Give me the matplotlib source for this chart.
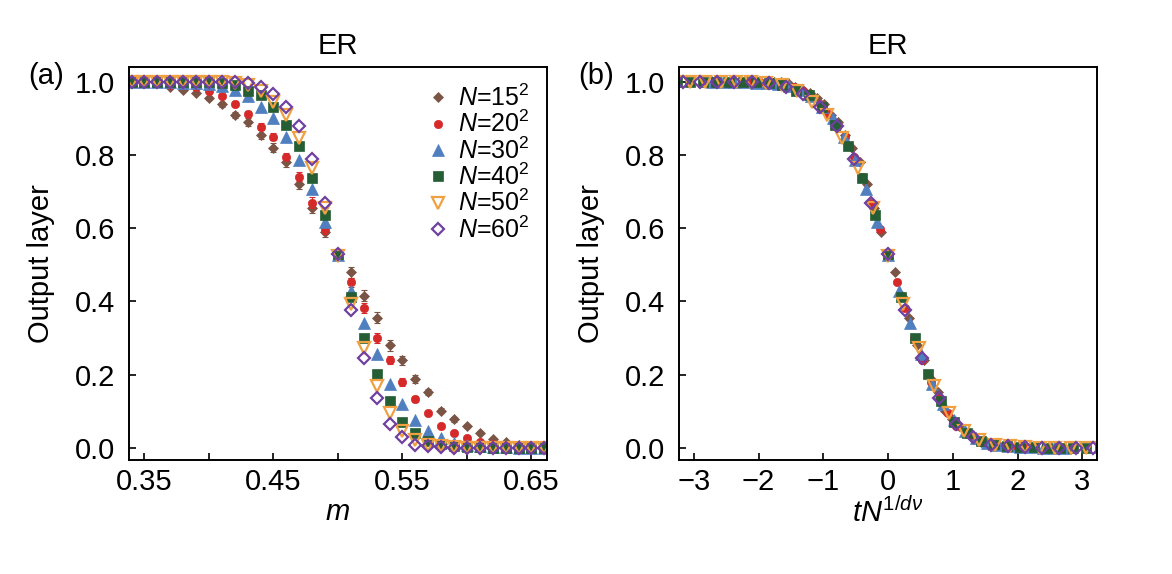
import numpy as np
import matplotlib
matplotlib.use("Agg")
import matplotlib.pyplot as plt

plt.rcParams["font.family"] = ["Liberation Sans", "DejaVu Sans"]
plt.rcParams["mathtext.fontset"] = "custom"
plt.rcParams["mathtext.rm"] = "Liberation Sans"
plt.rcParams["mathtext.it"] = "Liberation Sans:italic"
plt.rcParams["mathtext.bf"] = "Liberation Sans:bold"

# order parameter grid (left panel)
m = [0.34, 0.35, 0.36, 0.37, 0.38, 0.39, 0.40, 0.41, 0.42, 0.43, 0.44,
     0.45, 0.46, 0.47, 0.48, 0.49, 0.50, 0.51, 0.52, 0.53, 0.54, 0.55,
     0.56, 0.57, 0.58, 0.59, 0.60, 0.61, 0.62, 0.63, 0.64, 0.65, 0.66]

L_sizes = [15, 20, 30, 40, 50, 60]

out_15 = [1.0, 0.998, 0.995, 0.986, 0.978, 0.968, 0.955, 0.938, 0.91, 0.89, 0.855,
          0.82, 0.78, 0.72, 0.655, 0.59, 0.53, 0.479, 0.416, 0.356, 0.28, 0.239,
          0.188, 0.153, 0.102, 0.078, 0.06, 0.042, 0.024, 0.015, 0.008, 0.004, 0.002]
out_20 = [1.0, 1.0, 0.998, 0.99, 0.99, 0.985, 0.975, 0.962, 0.94, 0.913, 0.877,
          0.85, 0.795, 0.74, 0.67, 0.598, 0.528, 0.452, 0.382, 0.30, 0.24, 0.18,
          0.134, 0.095, 0.06, 0.042, 0.027, 0.017, 0.01, 0.005, 0.003, 0.002, 0.001]
out_30 = [1.0, 1.0, 1.0, 0.998, 0.997, 0.996, 0.993, 0.988, 0.978, 0.962, 0.93,
          0.90, 0.85, 0.787, 0.708, 0.617, 0.527, 0.429, 0.341, 0.256, 0.175, 0.12,
          0.075, 0.045, 0.027, 0.014, 0.008, 0.005, 0.003, 0.002, 0.001, 0.001, 0.0]
out_40 = [1.0, 1.0, 1.0, 1.0, 1.0, 0.999, 0.998, 0.995, 0.99, 0.975, 0.964,
          0.93, 0.882, 0.823, 0.738, 0.637, 0.53, 0.413, 0.30, 0.202, 0.129, 0.072,
          0.041, 0.02, 0.011, 0.006, 0.003, 0.002, 0.001, 0.001, 0.0, 0.0, 0.0]
out_50 = [1.0, 1.0, 1.0, 1.0, 1.0, 1.0, 0.999, 0.998, 0.995, 0.99, 0.975,
          0.945, 0.91, 0.847, 0.765, 0.656, 0.525, 0.393, 0.273, 0.168, 0.095, 0.045,
          0.022, 0.008, 0.004, 0.002, 0.001, 0.001, 0.0, 0.0, 0.0, 0.0, 0.0]
out_60 = [1.0, 1.0, 1.0, 1.0, 1.0, 1.0, 1.0, 0.999, 0.998, 0.995, 0.985,
          0.967, 0.932, 0.88, 0.79, 0.67, 0.53, 0.377, 0.246, 0.136, 0.066, 0.03,
          0.008, 0.004, 0.002, 0.001, 0.0, 0.0, 0.0, 0.0, 0.0, 0.0, 0.0]

# error bars (visible mostly for the small systems)
err_15 = [0, 0, 0, 0, 0, 0, 0.005, 0.006, 0.008, 0.01, 0.012,
          0.012, 0.012, 0.014, 0.015, 0.015, 0.012, 0.015, 0.015, 0.015, 0.015, 0.012,
          0.01, 0.008, 0.008, 0.006, 0.005, 0.004, 0.003, 0.002, 0, 0, 0]
err_20 = [0, 0, 0, 0, 0, 0, 0.004, 0.005, 0.006, 0.008, 0.01,
          0.01, 0.01, 0.012, 0.014, 0.014, 0.01, 0.012, 0.014, 0.014, 0.012, 0.01,
          0.008, 0.006, 0.005, 0.004, 0.003, 0.002, 0.002, 0, 0, 0, 0]

outputs = [out_15, out_20, out_30, out_40, out_50, out_60]
errors = [err_15, err_20, None, None, None, None]

# finite-size scaling parameters for the collapse
M_C = 0.5
EXP = 0.315  # 1/(d nu)

labels = [rf"$N$=${L}^2$" for L in L_sizes]
colors = ["#7a5545", "#d62a2a", "#4f7fbf", "#255e35", "#f0a040", "#7040a0"]
markers = ["D", "o", "^", "s", "v", "D"]
msizes = [4.6, 6.0, 8.3, 6.5, 8.8, 6.4]
filled = [True, True, True, True, False, False]

fig = plt.figure(figsize=(11.72, 5.74), dpi=100)
ax1 = fig.add_axes([0.110, 0.1986, 0.3567, 0.6847])
ax2 = fig.add_axes([0.5794, 0.1986, 0.3567, 0.6847])


def style(i):
    kw = dict(marker=markers[i], markersize=msizes[i], linestyle="none")
    if filled[i]:
        kw.update(color=colors[i], markeredgecolor=colors[i], markeredgewidth=0.5)
    else:
        kw.update(color=colors[i], markerfacecolor="none",
                  markeredgecolor=colors[i], markeredgewidth=1.6)
    return kw


mm = np.array(m)
handles = []
for i in range(len(L_sizes)):
    y = np.array(outputs[i])
    if errors[i] is not None:
        ax1.errorbar(mm, y, yerr=errors[i], fmt="none", ecolor=colors[i],
                     elinewidth=0.8, capsize=2, capthick=0.8)
    h, = ax1.plot(mm, y, label=labels[i], **style(i))
    handles.append(h)

    N = L_sizes[i] ** 2
    x = (mm - M_C) / M_C * N ** EXP
    ax2.plot(x, y, **style(i))

for ax in (ax1, ax2):
    ax.set_ylim(-0.033, 1.04)
    ax.set_yticks([0.0, 0.2, 0.4, 0.6, 0.8, 1.0])
    ax.set_yticklabels(["0.0", "0.2", "0.4", "0.6", "0.8", "1.0"])
    ax.tick_params(direction="in", length=5, width=1.2, labelsize=21, pad=6,
                   top=False, right=False)
    ax.tick_params(axis="y", pad=10)
    for sp in ax.spines.values():
        sp.set_linewidth(1.4)
    ax.set_ylabel("Output layer", fontsize=21, labelpad=14)
    ax.set_title("ER", fontsize=21, pad=9)

ax1.set_xlim(0.338, 0.662)
ax1.set_xticks([0.35, 0.40, 0.45, 0.50, 0.55, 0.60, 0.65])
ax1.set_xticklabels(["0.35", "", "0.45", "", "0.55", "", "0.65"])
ax1.set_xlabel(r"$m$", fontsize=21, labelpad=1)

ax2.set_xlim(-3.23, 3.23)
ax2.set_xticks([-3, -2, -1, 0, 1, 2, 3])
ax2.set_xticklabels(["\u22123", "\u22122", "\u22121", "0", "1", "2", "3"])
ax2.set_xlabel(r"$tN^{1/d\nu}$", fontsize=21, labelpad=1)

ax1.legend(handles=handles, loc="upper right", bbox_to_anchor=(1.0, 1.0),
           frameon=False, fontsize=18, handletextpad=0.3, labelspacing=0.0,
           borderaxespad=0.3, handlelength=1.0, numpoints=1)

fig.text(28 / 1172, 1 - 76 / 574, "(a)", fontsize=21, va="center", ha="left")
fig.text(578 / 1172, 1 - 76 / 574, "(b)", fontsize=21, va="center", ha="left")

fig.savefig("out.png", dpi=100)
